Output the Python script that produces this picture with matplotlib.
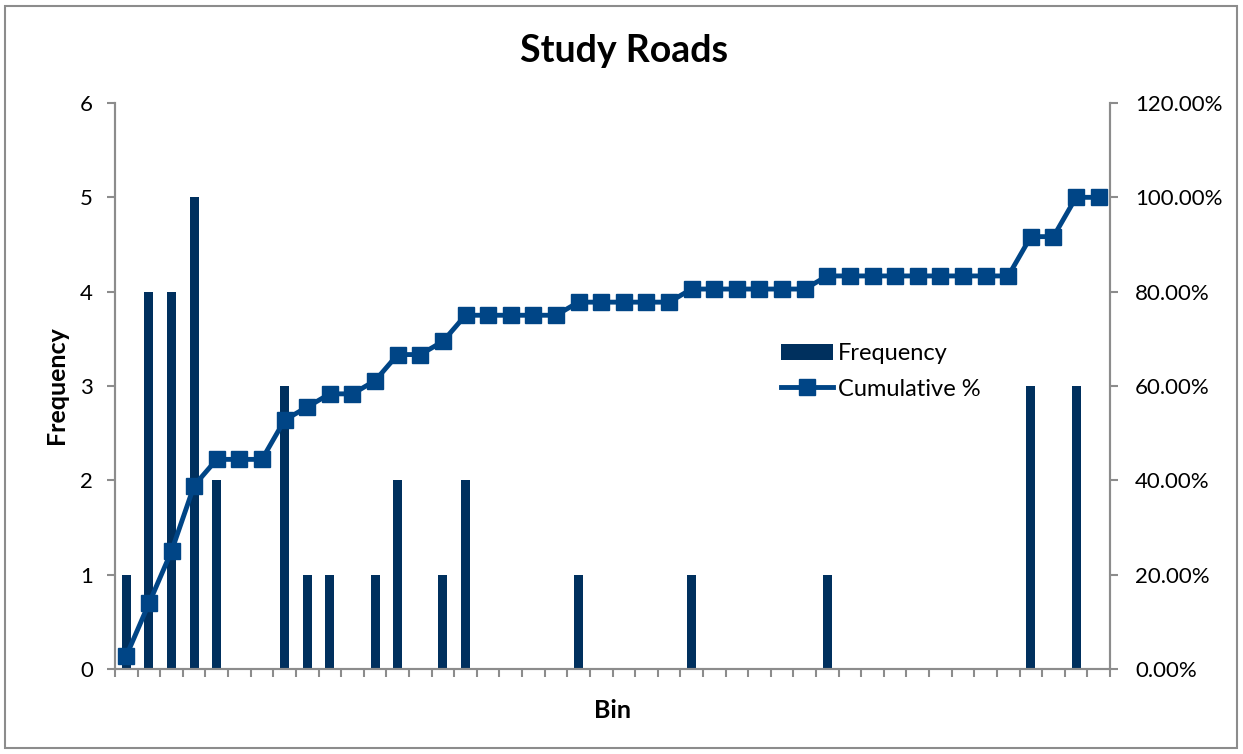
import numpy as np
import matplotlib
matplotlib.use("Agg")
import matplotlib.pyplot as plt
from matplotlib.ticker import FuncFormatter
from matplotlib.patches import Rectangle

plt.rcParams['font.family'] = ['Lato', 'DejaVu Sans']

# Data: 44 bins, frequency per bin
bins = list(range(44))
frequency = [1, 4, 4, 5, 2, 0, 0, 3, 1, 1, 0, 1, 2, 0, 1, 2, 0, 0, 0, 0,
             1, 0, 0, 0, 0, 1, 0, 0, 0, 0, 0, 1, 0, 0, 0, 0, 0, 0, 0, 0,
             3, 0, 3, 0]
cumulative_pct = list(np.cumsum(frequency) / np.sum(frequency) * 100)

title = "Study Roads"
xlabel = "Bin"
ylabel = "Frequency"

bar_color = '#00305E'
line_color = '#004586'
axis_color = '#8C8C8C'

fig = plt.figure(figsize=(12.43, 7.54), dpi=100)
fig.patch.set_facecolor('white')
fig.patches.append(Rectangle((5/1243, 6/754), 1232/1243, 742/754, transform=fig.transFigure,
                             fill=False, edgecolor='#8C8C8C', linewidth=1.5))

ax = fig.add_axes([115/1243, 1 - 669/754, 995/1243, 566/754])
ax2 = ax.twinx()

x = np.arange(len(bins))
ax.bar(x, frequency, width=0.4, color=bar_color, label='Frequency', zorder=2)
ax2.plot(x, cumulative_pct, color=line_color, linewidth=3.5, marker='s', markersize=12,
         label='Cumulative %', zorder=3)

ax.set_xlim(-0.5, len(bins) - 0.5)
ax.set_ylim(0, 6)
ax2.set_ylim(0, 120)
ax.set_yticks(range(0, 7))
ax2.set_yticks(range(0, 121, 20))
ax2.yaxis.set_major_formatter(FuncFormatter(lambda v, p: f"{v:.2f}%"))

ax.set_xticks(np.arange(-0.5, len(bins), 1.0))
ax.set_xticklabels([])

for a in (ax, ax2):
    a.spines['top'].set_visible(False)
    for s in ('left', 'right', 'bottom'):
        a.spines[s].set_color(axis_color)
        a.spines[s].set_linewidth(1.5)
    a.tick_params(axis='both', colors=axis_color, length=6, width=1.5, labelsize=16,
                  labelcolor='black', direction='out')
ax.tick_params(axis='y', pad=10)
ax2.tick_params(axis='y', pad=12)

fig.text(624/1243, 1 - 51/754, title, ha='center', va='center', fontsize=27, fontweight='bold')
fig.text(57/1243, 1 - 385/754, ylabel, ha='center', va='center', rotation=90,
         fontsize=18, fontweight='bold')
fig.text(613/1243, 1 - 710/754, xlabel, ha='center', va='center', fontsize=18, fontweight='bold')

h1, l1 = ax.get_legend_handles_labels()
h2, l2 = ax2.get_legend_handles_labels()
ax2.legend(h1 + h2, l1 + l2, loc='upper left', bbox_to_anchor=((772 - 115) / 995, (669 - 334) / 566),
           frameon=False, fontsize=17, handlelength=2.2, handletextpad=0.2, labelspacing=0.6,
           borderaxespad=0)

fig.savefig('out.png', dpi=100)
